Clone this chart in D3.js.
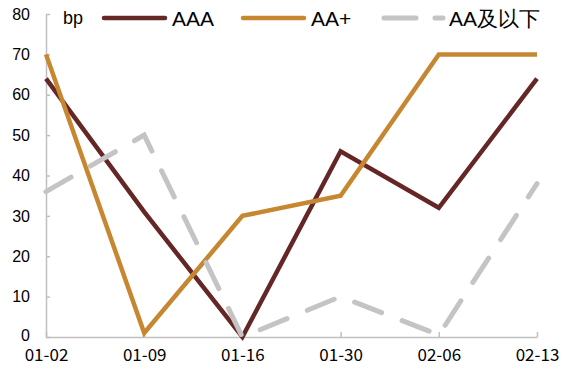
<!DOCTYPE html>
<html><head><meta charset="utf-8">
<script src="https://cdn.jsdelivr.net/npm/d3@7"></script>
<style>body{margin:0;background:#fff}</style>
</head><body>
<svg id="c" width="583" height="380"></svg>
<script>
const categories = ["01-02","01-09","01-16","01-30","02-06","02-13"];
const seriesNames = ["AAA","AA+","AA及以下"];
const aaa = [64, 31, 0, 46, 32, 64];
const aaPlus = [70, 1, 30, 35, 70, 70];
const aaBelow = [36, 50, 0, 10, 0.5, 38];
const yTicks = [0,10,20,30,40,50,60,70,80];
const unitLabel = "bp";

const colors = ["#652626", "#C78731", "#C4C4C4"];
const svg = d3.select("#c");
const x = d3.scalePoint().domain(categories).range([46, 537]);
const y = d3.scaleLinear().domain([0, 80]).range([337, 14]);
const axisColor = "#BFBFBF";

// Y axis
const ya = svg.append("g").attr("transform","translate(46,0)")
  .call(d3.axisLeft(y).tickValues(yTicks).tickSize(-4).tickPadding(16).tickSizeOuter(0));
ya.select(".domain").attr("stroke", axisColor).attr("stroke-width", 1.5);
ya.selectAll(".tick line").attr("stroke", axisColor).attr("stroke-width", 1.5);
ya.selectAll("text").attr("font-family","Liberation Sans, Arial, sans-serif").attr("font-size", 16).attr("fill","#000");
ya.selectAll(".tick").filter(d => d === 0).select("text").attr("dy", "0.2em");

// X axis
const xa = svg.append("g").attr("transform","translate(0,337)")
  .call(d3.axisBottom(x).tickSize(-5).tickPadding(12).tickSizeOuter(0));
xa.select(".domain").attr("stroke", axisColor).attr("stroke-width", 1.5);
xa.selectAll(".tick line").attr("stroke", axisColor).attr("stroke-width", 1.5);
xa.selectAll("text").attr("font-family","Noto Sans CJK SC, sans-serif").attr("font-size", 17).attr("fill","#000");

const data = [aaa, aaPlus, aaBelow];
const line = d3.line().x((d,i)=>x(categories[i])).y(d=>y(d));
data.forEach((vals, k) => {
  const p = svg.append("path").attr("d", line(vals)).attr("fill","none")
    .attr("stroke", colors[k]).attr("stroke-width", k===2 ? 5 : 4.5)
    .attr("stroke-linejoin","miter");
  if (k===2) p.attr("stroke-dasharray","29,22").attr("stroke-linecap","round");
});

// Legend
svg.append("text").attr("x", 63).attr("y", 24).text(unitLabel)
  .attr("font-family","Liberation Sans, Arial, sans-serif").attr("font-size", 18);
const legX = [104, 243, 381];
seriesNames.forEach((n, k) => {
  const l = svg.append("line").attr("x1", legX[k]).attr("x2", legX[k] + (k===2 ? 62 : 61))
    .attr("y1", 18).attr("y2", 18).attr("stroke", colors[k]).attr("stroke-width", k===2 ? 5 : 4.5)
    .attr("stroke-linecap","round");
  if (k===2) l.attr("stroke-dasharray","32,19").attr("stroke-dashoffset", -3);
  svg.append("text").attr("x", legX[k] + 68).attr("y", 26).text(n)
    .attr("font-family","Liberation Sans, Arial, sans-serif").attr("font-size", 21).attr("fill","#000");
});
</script>
</body></html>
